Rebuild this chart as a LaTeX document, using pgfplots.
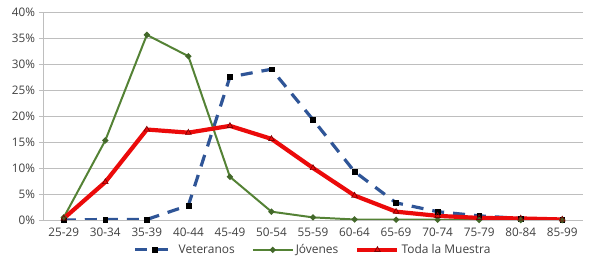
\documentclass[border=0pt]{standalone}
\usepackage{pgfplots}
\pgfplotsset{compat=1.18}
\usepackage{fontspec}
\setmainfont{Open Sans}
\definecolor{vet}{RGB}{47,85,151}
\definecolor{jov}{RGB}{84,130,53}
\definecolor{tod}{RGB}{235,10,10}
\definecolor{gridc}{RGB}{190,190,190}
\definecolor{txt}{RGB}{64,64,64}
\begin{document}
\begin{tikzpicture}
\begin{axis}[
  scale only axis, width=540bp, height=208bp,
  xmin=-0.5, xmax=12.5, ymin=0, ymax=40,
  xtick={0,...,12},
  xticklabels={25-29,30-34,35-39,40-44,45-49,50-54,55-59,60-64,65-69,70-74,75-79,80-84,85-99},
  minor xtick={-0.5,0.5,...,12.5},
  ytick={0,5,...,40},
  yticklabel={\pgfmathprintnumber{\tick}\%},
  /pgf/number format/assume math mode=true,
  ymajorgrids, grid style={gridc, line width=0.8pt},
  axis line style={gridc, line width=0.8pt},
  axis x line*=bottom, axis y line*=left,
  tick align=outside,
  major tick length=4bp, minor tick length=4bp,
  xtick style={draw=none}, minor x tick style={gridc, line width=0.8pt},
  ytick style={gridc, line width=0.8pt},
  ticklabel style={font=\fontsize{11.8}{14}\selectfont, text=txt},
  xticklabel style={yshift=-0.5bp},
  yticklabel style={xshift=-0.5bp},
  legend style={at={(0.5,-0.098)}, anchor=north, draw=none, fill=none,
    legend columns=3, font=\fontsize{12}{14}\selectfont, text=txt,
    /tikz/every even column/.append style={column sep=15bp},
    /tikz/every odd column/.append style={inner xsep=1bp}},
  legend cell align=left,
  legend image code/.code={
    \draw[mark repeat=2,mark phase=2,#1] plot coordinates {(0bp,0bp) (20bp,0bp) (40bp,0bp)};
  },
]
\addplot[vet, line width=3.2pt, dash pattern=on 12bp off 9bp,
  mark=square*, mark size=2.4bp,
  mark options={solid, fill=black, draw=black, line width=0.5pt}]
  coordinates {(0,0) (1,0.1) (2,0.1) (3,2.8) (4,27.5) (5,29.0) (6,19.3) (7,9.3) (8,3.3) (9,1.6) (10,0.8) (11,0.3) (12,0.1)};
\addlegendentry{Veteranos}
\addplot[jov, line width=2pt, mark=*, mark size=1.9bp,
  mark options={fill=jov!80!black, draw=jov!80!black}]
  coordinates {(0,0.5) (1,15.3) (2,35.6) (3,31.5) (4,8.3) (5,1.6) (6,0.5) (7,0.1) (8,0.05) (9,0.05) (10,0) (11,0) (12,0)};
\addlegendentry{Jóvenes}
\addplot[tod, line width=4.2pt, mark=triangle, mark size=3.2bp,
  mark options={draw=red!50!black, line width=0.7pt, fill=none}]
  coordinates {(0,0.3) (1,7.3) (2,17.4) (3,16.8) (4,18.1) (5,15.6) (6,10.0) (7,4.7) (8,1.6) (9,0.8) (10,0.4) (11,0.3) (12,0.1)};
\addlegendentry{Toda la Muestra}
\end{axis}
\pgfresetboundingbox
\path[use as bounding box] (-43bp,-55bp) rectangle (557bp,220bp);
\end{tikzpicture}
\end{document}
